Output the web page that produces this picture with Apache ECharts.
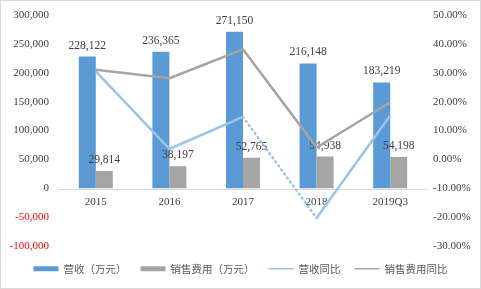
<!DOCTYPE html>
<html>
<head>
<meta charset="utf-8">
<script src="https://cdn.jsdelivr.net/npm/echarts@6/dist/echarts.min.js"></script>
<style>
  html, body { margin: 0; padding: 0; background: #fff; }
  #chart { width: 479px; height: 287px; border: 1px solid #d9d9d9; }
</style>
</head>
<body>
<div id="chart"></div>
<script>
const categories = ["2015", "2016", "2017", "2018", "2019Q3"];
const revenue = [228122, 236365, 271150, 216148, 183219];
const salesCost = [29814, 38197, 52765, 54938, 54198];
const revenueYoY = [30.5, 3.6, 14.7, -20.3, 15.2];
const salesCostYoY = [31, 28.1, 38.1, 4.1, 19.8];

// revenue yoy is split: solid 2015-2017, dotted 2017-2018, solid 2018-2019Q3
const revSolidA = revenueYoY.map((v, i) => (i <= 2 ? v : null));
const revDotted = revenueYoY.map((v, i) => (i === 2 || i === 3 ? v : null));
const revSolidB = revenueYoY.map((v, i) => (i >= 3 ? v : null));

const serif = "Liberation Serif";
const cjk = "Noto Sans CJK SC";
// thin line icon inside a 25x5 legend box
const lineIcon = "path://M0,0L0.1,0L0.1,0.1Z M0,1.8L25,1.8L25,3.2L0,3.2Z M0,4.9L0.1,4.9L0.1,5Z";

var myChart = echarts.init(document.getElementById("chart"));

var option = {
  animation: false,
  grid: { left: 58, right: 53, top: 14, bottom: 42 },
  legend: {
    bottom: 9,
    left: "center",
    itemWidth: 25,
    itemHeight: 5,
    itemGap: 14,
    textStyle: { fontFamily: cjk, fontSize: 10.5, color: "#595959" },
    data: [
      { name: "营收（万元）", icon: "rect" },
      { name: "销售费用（万元）", icon: "rect" },
      { name: "营收同比", icon: lineIcon },
      { name: "销售费用同比", icon: lineIcon },
    ],
  },
  xAxis: {
    type: "category",
    data: categories,
    position: "bottom",
    offset: -57,
    axisLine: { onZero: false, lineStyle: { color: "#d9d9d9" } },
    axisTick: { show: false },
    axisLabel: { fontFamily: serif, fontSize: 11, color: "#404040", margin: 8 },
  },
  yAxis: [
    {
      type: "value",
      min: -100000,
      max: 300000,
      interval: 50000,
      splitLine: { show: false },
      axisLine: { show: false },
      axisLabel: {
        fontFamily: serif,
        fontSize: 11,
        margin: 10,
        color: (v) => (v < 0 ? "#ff0000" : "#404040"),
        formatter: (v) => v.toLocaleString("en-US"),
      },
    },
    {
      type: "value",
      min: -30,
      max: 50,
      interval: 10,
      splitLine: { show: false },
      axisLine: { show: false },
      axisLabel: {
        fontFamily: serif,
        fontSize: 11,
        margin: 6,
        color: "#404040",
        formatter: (v) => v.toFixed(2) + "%",
      },
    },
  ],
  series: [
    {
      name: "营收（万元）",
      type: "bar",
      data: revenue,
      barWidth: 17,
      barGap: "0%",
      itemStyle: { color: "#5b9bd5" },
      label: {
        show: true,
        position: "top",
        fontFamily: serif,
        fontSize: 11.5,
        color: "#404040",
        formatter: (p) => p.value.toLocaleString("en-US"),
      },
    },
    {
      name: "销售费用（万元）",
      type: "bar",
      data: salesCost,
      barWidth: 17,
      itemStyle: { color: "#a5a5a5" },
      label: {
        show: true,
        position: "top",
        fontFamily: serif,
        fontSize: 11.5,
        color: "#404040",
        formatter: (p) => p.value.toLocaleString("en-US"),
      },
    },
    {
      name: "营收同比",
      type: "line",
      yAxisIndex: 1,
      data: revSolidA,
      symbol: "none",
      lineStyle: { color: "#9dc3e6", width: 2.5 },
      itemStyle: { color: "#9dc3e6" },
      z: 3,
    },
    {
      name: "营收同比2",
      type: "line",
      yAxisIndex: 1,
      data: revDotted,
      symbol: "none",
      lineStyle: { color: "#9dc3e6", width: 2.5, type: [1, 4], cap: "round" },
      z: 3,
    },
    {
      name: "营收同比3",
      type: "line",
      yAxisIndex: 1,
      data: revSolidB,
      symbol: "none",
      lineStyle: { color: "#9dc3e6", width: 2.5 },
      z: 3,
    },
    {
      name: "销售费用同比",
      type: "line",
      yAxisIndex: 1,
      data: salesCostYoY,
      symbol: "none",
      lineStyle: { color: "#a5a5a5", width: 2.5 },
      itemStyle: { color: "#a5a5a5" },
      z: 3,
    },
  ],
};

option && myChart.setOption(option);
</script>
</body>
</html>
